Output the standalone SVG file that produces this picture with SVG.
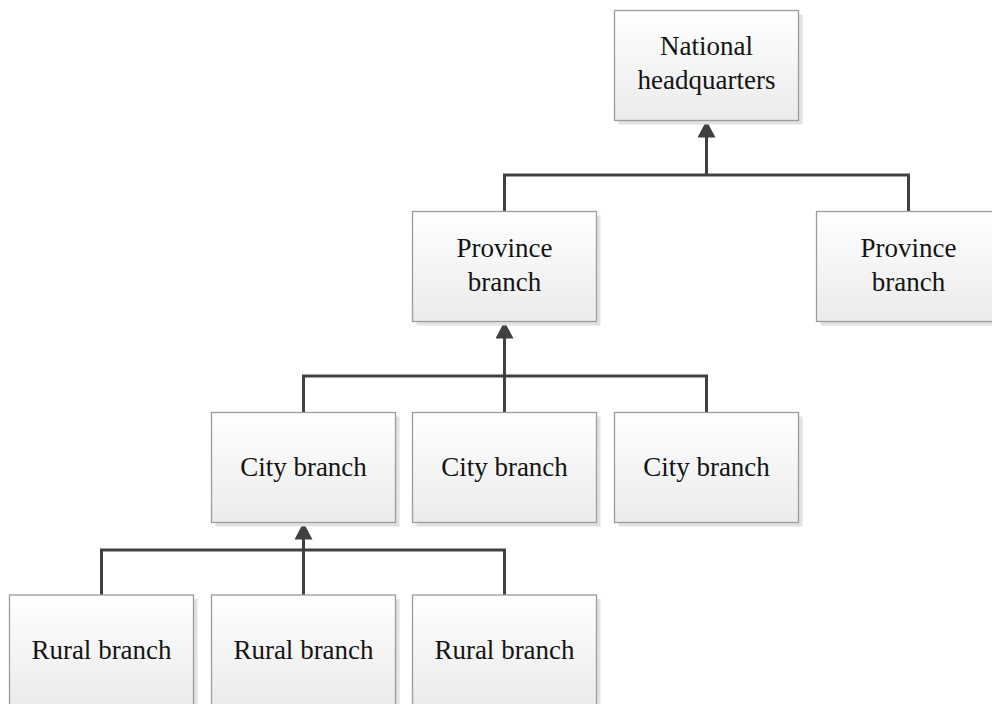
<svg xmlns="http://www.w3.org/2000/svg" width="992" height="704" viewBox="0 0 992 704">
  <defs>
    <linearGradient id="boxFill" x1="0" y1="0" x2="0" y2="1">
      <stop offset="0" stop-color="#ffffff"/>
      <stop offset="1" stop-color="#ebebeb"/>
    </linearGradient>
    <marker id="arrowUp" viewBox="0 0 17 18" refX="7" refY="9" markerWidth="17" markerHeight="18" markerUnits="userSpaceOnUse" orient="auto">
      <path d="M0,0 L17,9 L0,18 Z" fill="#404040"/>
    </marker>
    <style>
      .shadow { fill: #e2e2e2; }
      .box { fill: url(#boxFill); stroke: #9c9c9c; stroke-width: 1.3; }
      .label { font-family: "Liberation Serif", "Times New Roman", serif; font-size: 27px; fill: #141414; text-anchor: middle; }
      .wire { fill: none; stroke: #404040; stroke-width: 3; }
    </style>
  </defs>

  <rect width="992" height="704" fill="#ffffff"/>

  <!-- connectors -->
  <g id="connectors">
    <path class="wire" d="M504.5,211.5 V175 H908.5 V211.5"/>
    <path class="wire" d="M706.5,175 V130.5" marker-end="url(#arrowUp)"/>
    <path class="wire" d="M303.5,412.5 V376 H706.5 V412.5"/>
    <path class="wire" d="M504.5,412.5 V331.5" marker-end="url(#arrowUp)"/>
    <path class="wire" d="M101.5,595 V550 H504.5 V595"/>
    <path class="wire" d="M303.5,595 V532.5" marker-end="url(#arrowUp)"/>
  </g>

  <!-- nodes -->
  <g id="national-hq">
    <rect class="shadow" x="618.5" y="14.5" width="184" height="110"/>
    <rect class="box" x="614.5" y="10.5" width="184" height="110"/>
    <text class="label" x="706.5" y="55">National</text>
    <text class="label" x="706.5" y="89">headquarters</text>
  </g>

  <g id="province-1">
    <rect class="shadow" x="416.5" y="215.5" width="184" height="110"/>
    <rect class="box" x="412.5" y="211.5" width="184" height="110"/>
    <text class="label" x="504.5" y="257">Province</text>
    <text class="label" x="504.5" y="291">branch</text>
  </g>

  <g id="province-2">
    <rect class="shadow" x="820.5" y="215.5" width="184" height="110"/>
    <rect class="box" x="816.5" y="211.5" width="184" height="110"/>
    <text class="label" x="908.5" y="257">Province</text>
    <text class="label" x="908.5" y="291">branch</text>
  </g>

  <g id="city-1">
    <rect class="shadow" x="215.5" y="416.5" width="184" height="110"/>
    <rect class="box" x="211.5" y="412.5" width="184" height="110"/>
    <text class="label" x="303.5" y="476">City branch</text>
  </g>

  <g id="city-2">
    <rect class="shadow" x="416.5" y="416.5" width="184" height="110"/>
    <rect class="box" x="412.5" y="412.5" width="184" height="110"/>
    <text class="label" x="504.5" y="476">City branch</text>
  </g>

  <g id="city-3">
    <rect class="shadow" x="618.5" y="416.5" width="184" height="110"/>
    <rect class="box" x="614.5" y="412.5" width="184" height="110"/>
    <text class="label" x="706.5" y="476">City branch</text>
  </g>

  <g id="rural-1">
    <rect class="shadow" x="13.5" y="599" width="184" height="110"/>
    <rect class="box" x="9.5" y="595" width="184" height="110"/>
    <text class="label" x="101.5" y="659">Rural branch</text>
  </g>

  <g id="rural-2">
    <rect class="shadow" x="215.5" y="599" width="184" height="110"/>
    <rect class="box" x="211.5" y="595" width="184" height="110"/>
    <text class="label" x="303.5" y="659">Rural branch</text>
  </g>

  <g id="rural-3">
    <rect class="shadow" x="416.5" y="599" width="184" height="110"/>
    <rect class="box" x="412.5" y="595" width="184" height="110"/>
    <text class="label" x="504.5" y="659">Rural branch</text>
  </g>
</svg>
